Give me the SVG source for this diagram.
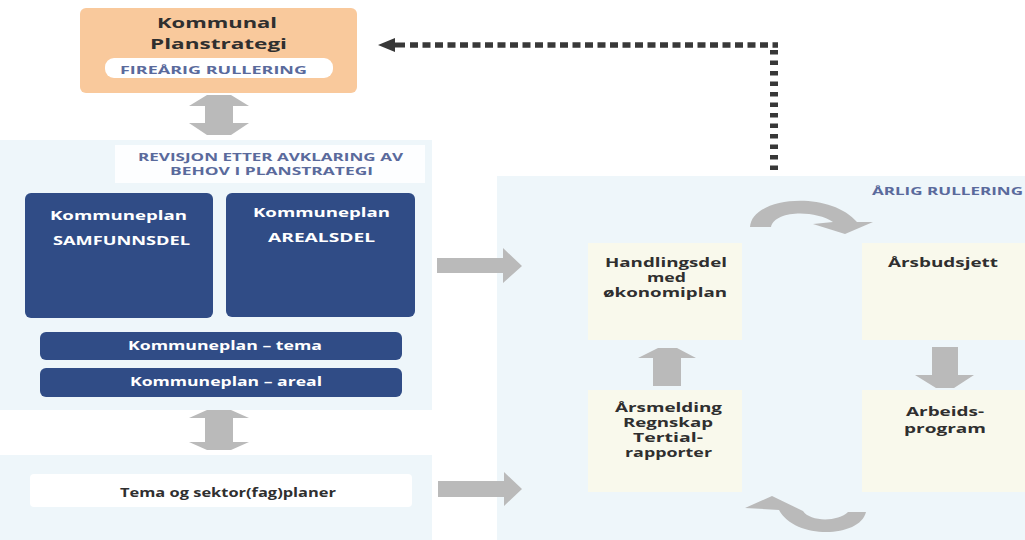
<svg xmlns="http://www.w3.org/2000/svg" width="1025" height="540" viewBox="0 0 1025 540">
<style>
.t{font-family:"Open Sans","Liberation Sans",sans-serif;font-weight:bold;}
.dk{fill:#2f2f2f;}
.wh{fill:#ffffff;}
.bl{fill:#5a6a9c;}
.navy{fill:#304c86;}
.panel{fill:#eef6fa;}
.pale{fill:#f9f9ec;}
.gray{fill:#bababa;}
</style>
<rect width="1025" height="540" fill="#ffffff"/>
<g id="panel-left">
<rect class="panel" x="0" y="140" width="432" height="270"/>
<rect x="115" y="145" width="310" height="38" fill="#ffffff" opacity="0.85"/>
<text class="t bl" x="138" y="161" font-size="10.5" textLength="265" lengthAdjust="spacingAndGlyphs">REVISJON ETTER AVKLARING AV</text>
<text class="t bl" x="170" y="175" font-size="10.5" textLength="203" lengthAdjust="spacingAndGlyphs">BEHOV I PLANSTRATEGI</text>
</g>
<g id="panel-bottom">
<rect class="panel" x="0" y="455" width="432" height="85"/>
</g>
<g id="panel-right">
<rect class="panel" x="497" y="176" width="528" height="364"/>
<text class="t bl" x="872" y="195" font-size="10.5" textLength="151" lengthAdjust="spacingAndGlyphs">ÅRLIG RULLERING</text>
</g>
<g id="strategi">
<rect x="80" y="8" width="277" height="85" rx="6" fill="#f9c99c"/>
<text class="t dk" x="157" y="28" font-size="15" textLength="120" lengthAdjust="spacingAndGlyphs">Kommunal</text>
<text class="t dk" x="150" y="48.5" font-size="15" textLength="137" lengthAdjust="spacingAndGlyphs">Planstrategi</text>
<rect x="105" y="58" width="228" height="20" rx="9" fill="#ffffff"/>
<text class="t bl" x="120" y="74" font-size="11" textLength="187" lengthAdjust="spacingAndGlyphs">FIREÅRIG RULLERING</text>
</g>
<g id="samfunnsdel">
<rect class="navy" x="25" y="193" width="188" height="125" rx="6"/>
<text class="t wh" x="50" y="220" font-size="13" textLength="137" lengthAdjust="spacingAndGlyphs">Kommuneplan</text>
<text class="t wh" x="53" y="245" font-size="13" textLength="137" lengthAdjust="spacingAndGlyphs">SAMFUNNSDEL</text>
</g>
<g id="arealsdel">
<rect class="navy" x="226" y="193" width="189" height="124" rx="6"/>
<text class="t wh" x="253" y="217" font-size="13" textLength="137" lengthAdjust="spacingAndGlyphs">Kommuneplan</text>
<text class="t wh" x="268" y="242" font-size="13" textLength="107" lengthAdjust="spacingAndGlyphs">AREALSDEL</text>
</g>
<g id="tema">
<rect class="navy" x="40" y="332" width="362" height="28" rx="6"/>
<text class="t wh" x="128" y="350" font-size="12" textLength="194" lengthAdjust="spacingAndGlyphs">Kommuneplan – tema</text>
</g>
<g id="areal">
<rect class="navy" x="40" y="368" width="362" height="29" rx="6"/>
<text class="t wh" x="130" y="386" font-size="12" textLength="192" lengthAdjust="spacingAndGlyphs">Kommuneplan – areal</text>
</g>
<g id="sektorplaner">
<rect x="30" y="474" width="382" height="33" rx="4" fill="#ffffff"/>
<text class="t dk" x="120" y="497" font-size="12" textLength="216" lengthAdjust="spacingAndGlyphs">Tema og sektor(fag)planer</text>
</g>
<g id="handlingsdel">
<rect class="pale" x="588" y="243" width="154" height="97"/>
<text class="t dk" x="605" y="267" font-size="12.5" textLength="122" lengthAdjust="spacingAndGlyphs">Handlingsdel</text>
<text class="t dk" x="647" y="282" font-size="12.5" textLength="39" lengthAdjust="spacingAndGlyphs">med</text>
<text class="t dk" x="603" y="297" font-size="12.5" textLength="124" lengthAdjust="spacingAndGlyphs">økonomiplan</text>
</g>
<g id="arsbudsjett">
<rect class="pale" x="862" y="243" width="163" height="97"/>
<text class="t dk" x="888" y="267" font-size="12.5" textLength="110" lengthAdjust="spacingAndGlyphs">Årsbudsjett</text>
</g>
<g id="arsmelding">
<rect class="pale" x="588" y="390" width="154" height="102"/>
<text class="t dk" x="615" y="412" font-size="12.5" textLength="107" lengthAdjust="spacingAndGlyphs">Årsmelding</text>
<text class="t dk" x="623" y="427" font-size="12.5" textLength="90" lengthAdjust="spacingAndGlyphs">Regnskap</text>
<text class="t dk" x="633" y="442" font-size="12.5" textLength="70" lengthAdjust="spacingAndGlyphs">Tertial-</text>
<text class="t dk" x="625" y="457" font-size="12.5" textLength="87" lengthAdjust="spacingAndGlyphs">rapporter</text>
</g>
<g id="arbeidsprogram">
<rect class="pale" x="862" y="390" width="163" height="102"/>
<text class="t dk" x="906" y="416" font-size="12.5" textLength="78" lengthAdjust="spacingAndGlyphs">Arbeids-</text>
<text class="t dk" x="904" y="433" font-size="12.5" textLength="82" lengthAdjust="spacingAndGlyphs">program</text>
</g>
<g id="connectors">
<polygon class="gray" points="207,95 231,95 249,106 233,106 233,123 249,123 231,135 207,135 189,123 205,123 205,106 189,106"/>
<polygon class="gray" points="207,410 231,410 249,418 233,418 233,442 249,442 231,450 207,450 189,442 205,442 205,418 189,418"/>
<polygon class="gray" points="437,258 503,258 503,248 522,266 503,283 503,273 437,273"/>
<polygon class="gray" points="438,481 504,481 504,472 522,489 504,506 504,497 438,497"/>
<polygon class="gray" points="658,348 677,348 696,358 681,358 681,386 653,386 653,358 638,358"/>
<polygon class="gray" points="932,347 958,347 958,375 974,375 954,388 936,388 915,375 932,375"/>
<path class="gray" d="M750,227 C752,196 830,190 857,222 L873,222 L845,234 L813,224 L833,222 C815,210 775,210 771,227 Z"/>
<path class="gray" d="M745,508 L772,496 L803,511 C810,522 838,522 848,512 L866,512 C860,538 795,540 779,510 Z"/>
<line x1="410" y1="45" x2="778" y2="45" stroke="#383838" stroke-width="5.5" stroke-dasharray="8 4.5"/>
<line x1="774" y1="50" x2="774" y2="170" stroke="#383838" stroke-width="8" stroke-dasharray="4.5 6"/>
<polygon fill="#383838" points="378,45 395,38 395,42.5 405,42.5 405,47.5 395,47.5 395,52"/>
</g>
</svg>
